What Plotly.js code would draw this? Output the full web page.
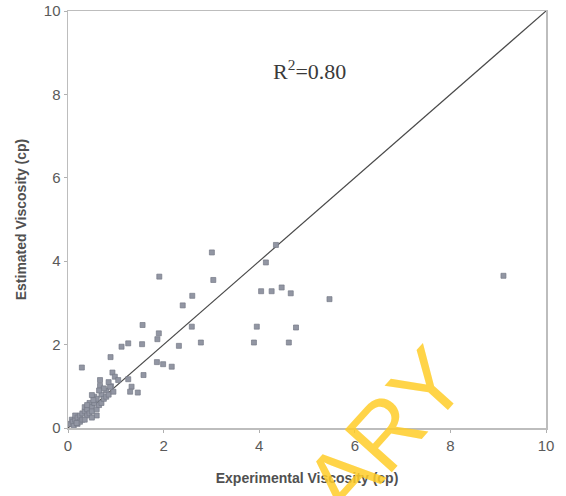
<!DOCTYPE html>
<html>
<head>
<meta charset="utf-8">
<script src="https://cdn.plot.ly/plotly-3.0.1.min.js"></script>
<style>html,body{margin:0;padding:0;background:#fff;}#chart{width:566px;height:496px;}</style>
</head>
<body>
<div id="chart"></div>
<script>
// Experimental vs estimated viscosity (cp)
const experimental = [
  0.05,0.08,0.10,0.12,0.15,0.15,0.20,0.20,0.25,0.25,0.30,0.30,0.35,0.35,0.40,0.40,0.45,0.45,
  0.50,0.50,0.55,0.55,0.60,0.60,0.65,0.70,0.70,0.75,0.80,0.80,0.85,0.90,0.60,0.50,0.35,0.18,
  0.29,0.89,0.93,0.67,0.67,0.98,1.05,1.26,1.33,1.30,1.46,0.95,0.88,0.50,0.53,1.58,1.12,1.26,
  1.86,1.99,2.17,1.55,1.56,1.87,1.90,2.32,2.78,2.59,2.40,2.60,1.91,3.01,3.04,4.35,4.14,
  4.04,4.26,4.47,4.66,5.47,3.95,4.77,3.89,4.62,9.11,0.75,0.85,0.40,0.65
];
const estimated = [
  0.10,0.20,0.15,0.05,0.20,0.30,0.10,0.25,0.30,0.15,0.20,0.35,0.40,0.50,0.30,0.45,0.35,0.60,
  0.50,0.40,0.60,0.75,0.45,0.70,0.55,0.80,0.60,0.70,0.90,0.75,0.80,1.00,0.30,0.25,0.20,0.12,
  1.45,1.70,1.33,1.15,1.01,1.23,1.15,1.17,0.99,0.87,0.85,0.87,0.99,0.79,0.67,1.27,1.95,2.03,
  1.58,1.53,1.47,2.01,2.47,2.13,2.27,1.97,2.05,2.43,2.94,3.17,3.63,4.21,3.55,4.39,3.97,
  3.28,3.28,3.37,3.23,3.09,2.43,2.41,2.05,2.05,3.65,0.95,1.10,0.55,0.90
];
const lineX = [0, 10];
const lineY = [0, 10];
const xTicks = [0, 2, 4, 6, 8, 10];
const yTicks = [0, 2, 4, 6, 8, 10];

const data = [
  {
    x: lineX, y: lineY, mode: 'lines', type: 'scatter',
    line: {color: '#4a4a4a', width: 1.2}, hoverinfo: 'skip', showlegend: false
  },
  {
    x: experimental, y: estimated, mode: 'markers', type: 'scatter',
    marker: {symbol: 'square', size: 5, color: '#9296a3', line: {color: '#767a86', width: 0.7}},
    showlegend: false
  }
];

const tickFont = {family: 'Liberation Sans, Arial, sans-serif', size: 15, color: '#5a5a5a'};
const titleFont = {family: 'Liberation Sans, Arial, sans-serif', size: 14, color: '#505050', weight: 'bold'};
const layout = {
  width: 566, height: 496,
  margin: {l: 68, r: 20, t: 11, b: 68},
  paper_bgcolor: '#ffffff', plot_bgcolor: '#ffffff',
  xaxis: {
    range: [0, 10], tickvals: xTicks, ticktext: xTicks.map(String),
    showgrid: false, zeroline: false, showline: true, linecolor: '#bdbdbd', linewidth: 1.5, mirror: true,
    ticks: 'outside', ticklen: 3, tickcolor: '#b0b0b0', tickfont: tickFont,
    title: {text: 'Experimental Viscosity (cp)', font: titleFont, standoff: 20}
  },
  yaxis: {
    range: [0, 10], tickvals: yTicks, ticktext: yTicks.map(String),
    showgrid: false, zeroline: false, showline: true, linecolor: '#bdbdbd', linewidth: 1.5, mirror: true,
    ticks: 'outside', ticklen: 3, tickcolor: '#b0b0b0', tickfont: tickFont,
    title: {text: 'Estimated Viscosity (cp)', font: titleFont, standoff: 14}
  },
  annotations: [
    {
      x: 5.06, y: 8.58, xref: 'x', yref: 'y', text: 'R<sup>2</sup>=0.80', showarrow: false,
      font: {family: 'Liberation Serif, Times New Roman, serif', size: 22, color: '#3a3a3a'}
    },
    {
      x: 0.663, y: -0.01, xref: 'paper', yref: 'paper', xanchor: 'center', yanchor: 'middle',
      text: 'ARY', showarrow: false,
      textangle: -48, font: {family: 'Liberation Sans, Arial, sans-serif', size: 92, color: 'rgba(255,205,40,0.85)'}
    }
  ]
};

Plotly.newPlot('chart', data, layout, {displayModeBar: false, staticPlot: true});
</script>
</body>
</html>
